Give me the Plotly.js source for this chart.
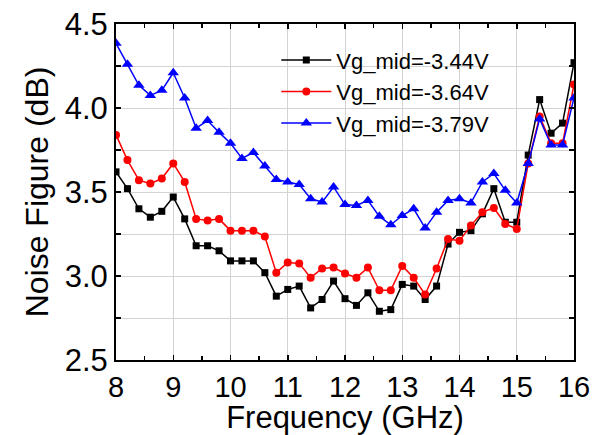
<!DOCTYPE html>
<html>
<head>
<meta charset="utf-8">
<script src="https://cdn.plot.ly/plotly-3.0.1.min.js"></script>
<style>html,body{margin:0;padding:0;background:#fff;}#chart{width:600px;height:435px;}</style>
</head>
<body>
<div id="chart"></div>
<script>
const freq = [8.0,8.2,8.4,8.6,8.8,9.0,9.2,9.4,9.6,9.8,10.0,10.2,10.4,10.6,10.8,11.0,11.2,11.4,11.6,11.8,12.0,12.2,12.4,12.6,12.8,13.0,13.2,13.4,13.6,13.8,14.0,14.2,14.4,14.6,14.8,15.0,15.2,15.4,15.6,15.8,16.0];
const nf344 = [3.62,3.52,3.40,3.35,3.385,3.47,3.34,3.18,3.18,3.15,3.09,3.09,3.09,3.02,2.88,2.92,2.94,2.81,2.86,2.97,2.865,2.825,2.90,2.79,2.80,2.95,2.94,2.86,2.94,3.19,3.26,3.27,3.37,3.52,3.32,3.32,3.72,4.05,3.85,3.91,4.27];
const nf364 = [3.84,3.69,3.57,3.55,3.58,3.67,3.56,3.34,3.33,3.34,3.27,3.27,3.27,3.235,3.02,3.08,3.075,2.99,3.045,3.05,3.015,2.99,3.05,2.915,2.915,3.06,2.99,2.89,3.045,3.22,3.21,3.30,3.38,3.405,3.31,3.28,3.67,3.95,3.79,3.79,4.14];
const nf379 = [4.385,4.26,4.135,4.075,4.105,4.21,4.06,3.88,3.925,3.855,3.79,3.70,3.735,3.655,3.575,3.56,3.545,3.46,3.44,3.53,3.425,3.42,3.45,3.355,3.305,3.36,3.40,3.285,3.38,3.45,3.46,3.435,3.56,3.61,3.51,3.435,3.67,3.935,3.78,3.78,4.06];
const seriesNames = ['Vg_mid=-3.44V','Vg_mid=-3.64V','Vg_mid=-3.79V'];

const font = 'Arial, "Liberation Sans", sans-serif';
const traces = [
  {x: freq, y: nf344, name: seriesNames[0], mode: 'lines+markers', line: {color: '#000000', width: 1.5}, marker: {symbol: 'square', size: 7, color: '#000000'}},
  {x: freq, y: nf364, name: seriesNames[1], mode: 'lines+markers', line: {color: '#ff0000', width: 1.5}, marker: {symbol: 'circle', size: 8, color: '#ff0000'}},
  {x: freq, y: nf379, name: seriesNames[2], mode: 'lines+markers', line: {color: '#0000ff', width: 1.5}, marker: {symbol: 'triangle-up', size: 10, color: '#0000ff'}}
];

const layout = {
  width: 600, height: 435,
  margin: {l: 116, r: 26, t: 24, b: 75},
  paper_bgcolor: '#ffffff', plot_bgcolor: '#ffffff',
  font: {family: font, color: '#000000'},
  showlegend: true,
  legend: {x: 0.35, y: 0.955, xanchor: 'left', yanchor: 'top', itemwidth: 50, bgcolor: 'rgba(255,255,255,0)', font: {family: font, size: 22, color: '#000000'}, tracegroupgap: 0},
  xaxis: {
    range: [8, 16], dtick: 1, tick0: 8,
    showline: true, linecolor: '#000000', linewidth: 2, mirror: 'allticks',
    ticks: 'inside', ticklen: 5, tickwidth: 1.5, tickcolor: '#000000',
    showgrid: true, gridcolor: '#d3d3d3', gridwidth: 1, zeroline: false,
    minor: {dtick: 0.5, ticks: 'inside', ticklen: 4, tickcolor: '#000000', showgrid: false},
    tickfont: {family: font, size: 29, color: '#000000'},
    title: {text: 'Frequency (GHz)', font: {family: font, size: 31, color: '#000000'}, standoff: 0}
  },
  yaxis: {
    range: [2.5, 4.5], dtick: 0.5, tick0: 2.5, tickformat: '.1f',
    showline: true, linecolor: '#000000', linewidth: 2, mirror: 'allticks',
    ticks: 'inside', ticklen: 5, tickwidth: 1.5, tickcolor: '#000000',
    showgrid: true, gridcolor: '#d3d3d3', gridwidth: 1, zeroline: false,
    minor: {dtick: 0.25, ticks: 'inside', ticklen: 5, tickcolor: '#000000', showgrid: true, gridcolor: '#d3d3d3', gridwidth: 1},
    tickfont: {family: font, size: 31, color: '#000000'},
    title: {text: 'Noise Figure (dB)', font: {family: font, size: 32, color: '#000000'}, standoff: 6}
  }
};

Plotly.newPlot('chart', traces, layout, {displayModeBar: false, staticPlot: true});
</script>
</body>
</html>
